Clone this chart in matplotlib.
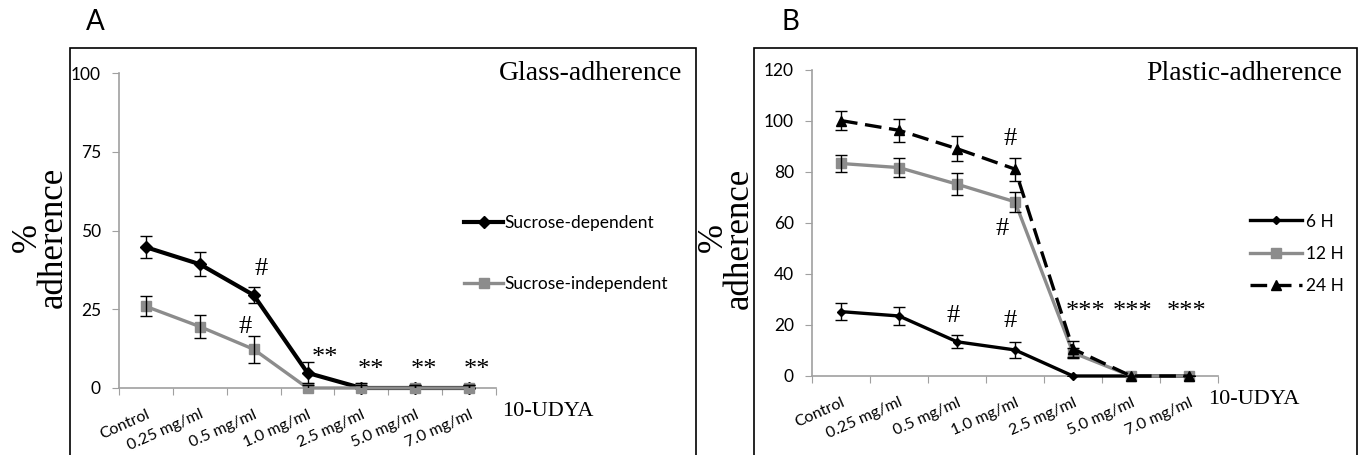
import numpy as np
import matplotlib
matplotlib.use("Agg")
from matplotlib import pyplot as plt
import matplotlib.patches as p

W, H = 1359, 455

categories = ["Control", "0.25 mg/ml", "0.5 mg/ml", "1.0 mg/ml", "2.5 mg/ml", "5.0 mg/ml", "7.0 mg/ml"]

# panel A - glass adherence
suc_dep = [44.7, 39.3, 29.5, 4.8, 0, 0, 0]
suc_dep_err = [3.4, 3.8, 2.6, 3.3, 1.5, 0.8, 0.8]
suc_indep = [25.9, 19.5, 12.3, 0, 0, 0, 0]
suc_indep_err = [3.2, 3.7, 4.3, 0.8, 0.8, 0.8, 0.8]
a_marks = ["#", "#", "**", "**", "**", "**"]
a_mark_x = [2.64, 2.34, 3.82, 4.67, 5.66, 6.64]
a_mark_y = [35.9, 17.5, 7.6, 3.8, 3.8, 3.8]

# panel B - plastic adherence
h6 = [25.2, 23.5, 13.4, 10.2, 0, 0, 0]
h6_err = [3.2, 3.6, 2.6, 3.0, 0, 0, 0]
h12 = [83.2, 81.6, 75.1, 68.2, 9.1, 0, 0]
h12_err = [3.4, 3.7, 4.4, 3.9, 2.0, 0, 0]
h24 = [100, 96.2, 89.0, 81.0, 10.6, 0, 0]
h24_err = [3.7, 4.6, 4.9, 4.5, 3.2, 0, 0]
b_marks = ["#", "#", "#", "#", "***", "***", "***"]
b_mark_x = [2.43, 3.41, 3.41, 3.28, 4.72, 5.53, 6.46]
b_mark_y = [21.2, 19.2, 90.6, 55.3, 22.7, 22.7, 22.7]

SANS = "Lato"
SERIF = "Liberation Serif"
GRAY = "#8c8c8c"
AXC = "#a0a0a0"


def fx(px):
    return px / W


def fy(py):
    return 1 - py / H


def make_axes(fig, left, right, top, bottom):
    return fig.add_axes([fx(left), fy(bottom), fx(right - left), (bottom - top) / H])


def style_axes(ax, ymax, ystep):
    for s in ["top", "right"]:
        ax.spines[s].set_visible(False)
    for s in ["left", "bottom"]:
        ax.spines[s].set_color(AXC)
        ax.spines[s].set_linewidth(1.2)
    ax.set_xlim(0, 7)
    ax.set_ylim(0, ymax)
    ax.set_yticks(np.arange(0, ymax + 1, ystep))
    ax.set_xticks(np.arange(0, 8))
    ax.set_xticklabels([])
    ax.set_xticks(np.arange(7) + 0.5, minor=True)
    ax.set_xticklabels(categories, minor=True, rotation=24, ha="right",
                       rotation_mode="anchor", fontfamily=SANS, fontsize=11.5)
    ax.tick_params(axis="x", which="major", length=5, color=AXC, direction="out")
    ax.tick_params(axis="x", which="minor", length=0, pad=14)
    ax.tick_params(axis="y", length=5, color=AXC, direction="out", pad=8,
                   labelsize=12.5)
    for t in ax.get_yticklabels():
        t.set_fontfamily(SANS)
    ax.patch.set_alpha(0)


fig = plt.figure(figsize=(W / 100, H / 100), dpi=100)

# outer frames
for (l, r) in [(70, 696), (754, 1357)]:
    fig.patches.append(p.Rectangle((fx(l), -0.05), fx(r - l), fy(48) + 0.05,
                                   transform=fig.transFigure, fill=False,
                                   edgecolor="black", linewidth=1.2))

x = np.arange(7) + 0.5

# ---- panel A
axA = make_axes(fig, 119, 496, 73, 388)
style_axes(axA, 100, 25)
axA.errorbar(x, suc_dep, yerr=suc_dep_err, fmt="none", ecolor="black",
             elinewidth=1, capsize=4, capthick=1, zorder=4)
axA.errorbar(x, suc_indep, yerr=suc_indep_err, fmt="none", ecolor="black",
             elinewidth=1, capsize=4, capthick=1, zorder=4)
axA.plot(x, suc_dep, color="black", lw=3, marker="D", ms=6.5,
         label="Sucrose-dependent", clip_on=False, zorder=3)
axA.plot(x, suc_indep, color=GRAY, lw=2.4, marker="s", ms=7,
         label="Sucrose-independent", clip_on=False, zorder=3)
for t, mx, my in zip(a_marks, a_mark_x, a_mark_y):
    axA.text(mx, my, t, ha="center", va="baseline", fontfamily=SERIF, fontsize=19)
axA.legend(loc="center left", bbox_to_anchor=(fx(464), fy(253.5)),
           bbox_transform=fig.transFigure, frameon=False, borderpad=0,
           borderaxespad=0, handlelength=2.25, handletextpad=0.1,
           labelspacing=2.6, prop={"family": SANS, "size": 12.5})

# ---- panel B
axB = make_axes(fig, 812, 1218, 69.5, 376)
style_axes(axB, 120, 20)
for vals, errs in [(h6, h6_err), (h12, h12_err), (h24, h24_err)]:
    axB.errorbar(x, vals, yerr=errs, fmt="none", ecolor="black",
                 elinewidth=1, capsize=4, capthick=1, zorder=4)
axB.plot(x, h6, color="black", lw=2.4, marker="D", ms=4.5, label="6 H",
         clip_on=False, zorder=3)
axB.plot(x, h12, color=GRAY, lw=2.4, marker="s", ms=7, label="12 H",
         clip_on=False, zorder=3)
axB.plot(x, h24, color="black", lw=2.4, marker="^", ms=7.5, label="24 H",
         dashes=(5, 2.3), clip_on=False, zorder=3)
for t, mx, my in zip(b_marks, b_mark_x, b_mark_y):
    axB.text(mx, my, t, ha="center", va="baseline", fontfamily=SERIF, fontsize=19)
axB.legend(loc="center left", bbox_to_anchor=(fx(1250), fy(254)),
           bbox_transform=fig.transFigure, frameon=False, borderpad=0,
           borderaxespad=0, handlelength=3.0, handletextpad=0.2,
           labelspacing=0.95, prop={"family": SANS, "size": 12.5})

# panel texts
fig.text(fx(682), fy(73), "Glass-adherence", ha="right", va="center",
         fontfamily=SERIF, fontsize=20)
fig.text(fx(1342), fy(73), "Plastic-adherence", ha="right", va="center",
         fontfamily=SERIF, fontsize=20)
fig.text(fx(502), fy(412), "10-UDYA", ha="left", va="center",
         fontfamily=SERIF, fontsize=16)
fig.text(fx(1208), fy(400), "10-UDYA", ha="left", va="center",
         fontfamily=SERIF, fontsize=16)
fig.text(fx(40), fy(237), "%\nadherence", ha="center", va="center", rotation=90,
         fontfamily=SERIF, fontsize=25, linespacing=0.72, multialignment="center")
fig.text(fx(726), fy(238), "%\nadherence", ha="center", va="center", rotation=90,
         fontfamily=SERIF, fontsize=25, linespacing=0.72, multialignment="center")
fig.text(fx(86), fy(22), "A", ha="left", va="center", fontfamily=SANS, fontsize=20)
fig.text(fx(781), fy(22), "B", ha="left", va="center", fontfamily=SANS, fontsize=20)

fig.savefig("out.png", dpi=100)
